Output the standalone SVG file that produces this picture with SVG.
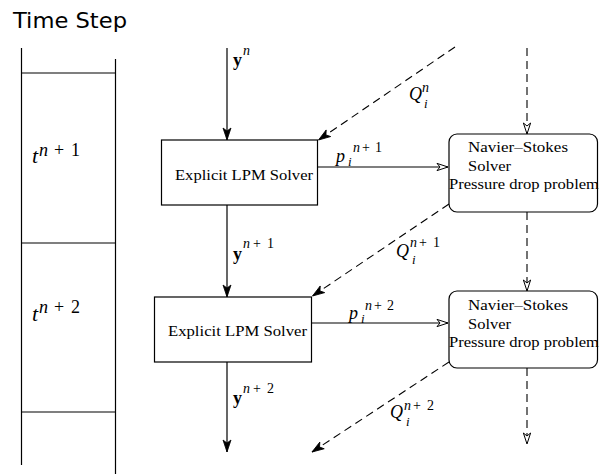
<svg xmlns="http://www.w3.org/2000/svg" width="599" height="474" viewBox="0 0 599 474">
<defs>
<style>
.ln{stroke:#000;stroke-width:1.2;fill:none}
.ds{stroke:#000;stroke-width:1.1;fill:none;stroke-dasharray:8 5}
.box{stroke:#000;stroke-width:1.2;fill:#fff}
.rm{font-family:"Liberation Serif","Times New Roman",serif;fill:#000}
.it{font-family:"Liberation Serif","Times New Roman",serif;font-style:italic;fill:#000}
.bd{font-family:"Liberation Serif","Times New Roman",serif;font-weight:bold;fill:#000}
.sf{font-family:"DejaVu Sans","Liberation Sans",sans-serif;fill:#000}
</style>
<marker id="af" markerUnits="userSpaceOnUse" markerWidth="14" markerHeight="10" viewBox="-13 -5 14 10" refX="0" refY="0" orient="auto">
<path d="M0,0 L-12,-4 L-9,0 L-12,4 Z" fill="#000" stroke="#000" stroke-width="0.8"/>
</marker>
<marker id="ao" markerUnits="userSpaceOnUse" markerWidth="14" markerHeight="10" viewBox="-13 -5 14 10" refX="0" refY="0" orient="auto">
<path d="M0,0 L-11,-3.6 L-8,0 L-11,3.6 Z" fill="#fff" stroke="#000" stroke-width="1"/>
</marker>
</defs>
<rect width="599" height="474" fill="#fff"/>

<g id="timestep">
<text class="sf" x="13" y="28" font-size="21" textLength="114" lengthAdjust="spacingAndGlyphs">Time Step</text>
<line class="ln" x1="21.5" y1="48" x2="21.5" y2="465"/>
<line class="ln" x1="115.5" y1="59" x2="115.5" y2="474"/>
<line class="ln" x1="21.5" y1="73" x2="115.5" y2="73"/>
<line class="ln" x1="21.5" y1="243" x2="115.5" y2="243"/>
<line class="ln" x1="21.5" y1="412" x2="115.5" y2="412"/>
<text class="it" x="32" y="163" font-size="22">t</text>
<text class="it" x="39" y="156" font-size="18">n</text>
<text class="rm" x="54" y="156" font-size="18">+</text>
<text class="rm" x="71" y="156" font-size="18">1</text>
<text class="it" x="32" y="321" font-size="22">t</text>
<text class="it" x="39" y="313" font-size="18">n</text>
<text class="rm" x="54" y="313" font-size="18">+</text>
<text class="rm" x="71" y="313" font-size="18">2</text>
</g>

<g id="connectors">
<line class="ln" x1="227" y1="48" x2="227" y2="140" marker-end="url(#af)"/>
<line class="ln" x1="227" y1="205" x2="227" y2="297" marker-end="url(#af)"/>
<line class="ln" x1="227" y1="362" x2="227" y2="452" marker-end="url(#af)"/>
<line class="ln" x1="318" y1="167" x2="448" y2="167" marker-end="url(#ao)"/>
<line class="ln" x1="312" y1="323" x2="448" y2="323" marker-end="url(#ao)"/>
<line class="ds" x1="455" y1="47" x2="318.5" y2="140" marker-end="url(#af)"/>
<line class="ds" x1="449" y1="204" x2="312.5" y2="296" marker-end="url(#af)"/>
<line class="ds" x1="449" y1="362" x2="312" y2="452" marker-end="url(#af)"/>
<line class="ds" x1="527" y1="48" x2="527" y2="134" marker-end="url(#ao)"/>
<line class="ds" x1="527" y1="212" x2="527" y2="291" marker-end="url(#ao)"/>
<line class="ds" x1="527" y1="368" x2="527" y2="444" marker-end="url(#ao)"/>
</g>

<g id="labels">
<text class="bd" x="233" y="66" font-size="18">y</text>
<text class="it" x="243" y="55" font-size="14">n</text>
<text class="bd" x="233" y="260" font-size="18">y</text>
<text class="it" x="243" y="248" font-size="14">n</text>
<text class="rm" x="253" y="248" font-size="14">+</text>
<text class="rm" x="267" y="248" font-size="14">1</text>
<text class="bd" x="233" y="404" font-size="18">y</text>
<text class="it" x="243" y="393" font-size="14">n</text>
<text class="rm" x="253" y="393" font-size="14">+</text>
<text class="rm" x="267" y="393" font-size="14">2</text>

<text class="it" x="336" y="162" font-size="18">p</text>
<text class="it" x="348" y="166" font-size="13">i</text>
<text class="it" x="353" y="152" font-size="14">n</text>
<text class="rm" x="362" y="152" font-size="14">+</text>
<text class="rm" x="375" y="152" font-size="14">1</text>

<text class="it" x="349" y="319" font-size="18">p</text>
<text class="it" x="361" y="323" font-size="13">i</text>
<text class="it" x="365" y="310" font-size="14">n</text>
<text class="rm" x="374" y="310" font-size="14">+</text>
<text class="rm" x="387" y="310" font-size="14">2</text>

<text class="it" x="409" y="100" font-size="18">Q</text>
<text class="it" x="422" y="92" font-size="14">n</text>
<text class="it" x="424" y="108" font-size="13">i</text>

<text class="it" x="396" y="257" font-size="18">Q</text>
<text class="it" x="410" y="247" font-size="14">n</text>
<text class="rm" x="419" y="247" font-size="14">+</text>
<text class="rm" x="433" y="247" font-size="14">1</text>
<text class="it" x="412" y="264" font-size="13">i</text>

<text class="it" x="390" y="418" font-size="18">Q</text>
<text class="it" x="404" y="410" font-size="14">n</text>
<text class="rm" x="413" y="410" font-size="14">+</text>
<text class="rm" x="427" y="410" font-size="14">2</text>
<text class="it" x="406" y="426" font-size="13">i</text>
</g>

<g id="lpm1">
<rect class="box" x="161.5" y="140" width="156" height="65"/>
<text class="rm" x="175" y="180" font-size="15" textLength="138" lengthAdjust="spacingAndGlyphs">Explicit LPM Solver</text>
</g>
<g id="lpm2">
<rect class="box" x="154.5" y="297" width="157" height="65"/>
<text class="rm" x="168" y="336" font-size="15" textLength="139" lengthAdjust="spacingAndGlyphs">Explicit LPM Solver</text>
</g>
<g id="ns1">
<rect class="box" x="449" y="134" width="148.5" height="78" rx="8" ry="8"/>
<text class="rm" x="468" y="152" font-size="15" textLength="100" lengthAdjust="spacingAndGlyphs">Navier–Stokes</text>
<text class="rm" x="468" y="171" font-size="15" textLength="43" lengthAdjust="spacingAndGlyphs">Solver</text>
<text class="rm" x="449" y="189" font-size="15" textLength="150" lengthAdjust="spacingAndGlyphs">Pressure drop problem</text>
</g>
<g id="ns2">
<rect class="box" x="449" y="291" width="148.5" height="77" rx="8" ry="8"/>
<text class="rm" x="468" y="310" font-size="15" textLength="100" lengthAdjust="spacingAndGlyphs">Navier–Stokes</text>
<text class="rm" x="468" y="329" font-size="15" textLength="43" lengthAdjust="spacingAndGlyphs">Solver</text>
<text class="rm" x="449" y="347" font-size="15" textLength="150" lengthAdjust="spacingAndGlyphs">Pressure drop problem</text>
</g>
</svg>
